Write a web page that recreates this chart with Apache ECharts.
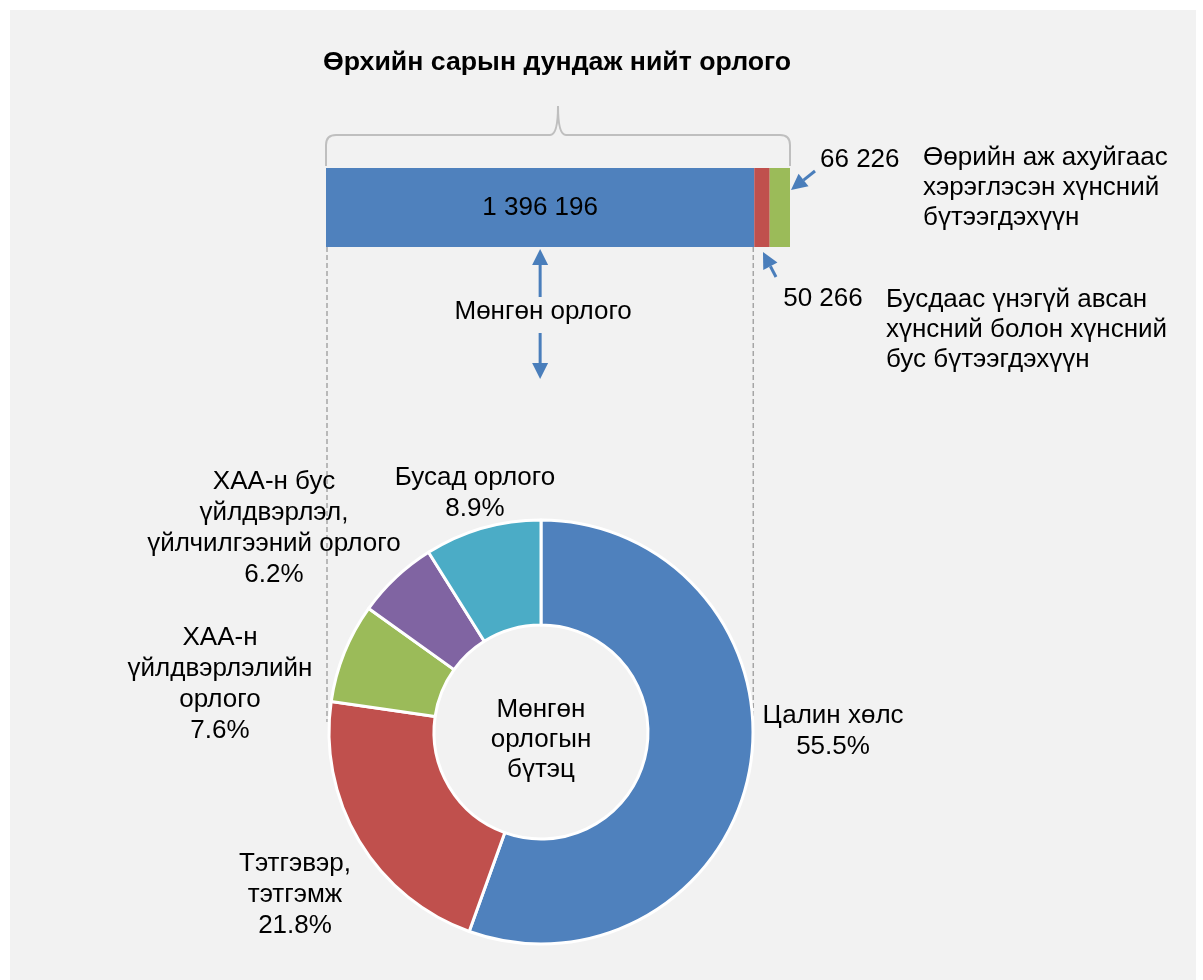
<!DOCTYPE html>
<html>
<head>
<meta charset="utf-8">
<script src="https://cdn.jsdelivr.net/npm/echarts@6/dist/echarts.min.js"></script>
<style>
  html, body { margin: 0; padding: 0; background: #fff; }
  #main { width: 1203px; height: 980px; }
</style>
</head>
<body>
<div id="main"></div>
<script>
  // нийт орлого (төгрөг)
  const barNames = ['Мөнгөн орлого', 'Бусдаас үнэгүй авсан', 'Өөрийн аж ахуйгаас'];
  const barValues = [1396196, 50266, 66226];
  const barColors = ['#4f81bd', '#c0504d', '#9bbb59'];

  // мөнгөн орлогын бүтэц (%)
  const pieNames = ['Цалин хөлс', 'Тэтгэвэр,\nтэтгэмж', 'ХАА-н\nүйлдвэрлэлийн\nорлого', 'ХАА-н бус\nүйлдвэрлэл,\nүйлчилгээний орлого', 'Бусад орлого'];
  const pieValues = [55.5, 21.8, 7.6, 6.2, 8.9];
  const pieColors = ['#4f81bd', '#c0504d', '#9bbb59', '#8064a2', '#4bacc6'];
  const pieLabelPos = [[833, 731], [295, 895], [220, 684], [274, 528], [475, 493]];

  const greenDesc = 'Өөрийн аж ахуйгаас\nхэрэглэсэн хүнсний\nбүтээгдэхүүн';
  const redDesc = 'Бусдаас үнэгүй авсан\nхүнсний болон хүнсний\nбус бүтээгдэхүүн';

  const FONT = 'Liberation Sans, Arial, sans-serif';
  const ARROW = '#4a7ebb';

  function fmt(n) {
    return String(n).replace(/\B(?=(\d{3})+(?!\d))/g, ' ');
  }

  const total = barValues.reduce((a, b) => a + b, 0);

  const barLabels = [
    { show: true, position: 'inside', color: '#000', fontSize: 26, fontFamily: FONT },
    { show: true, position: 'bottom', offset: [61, 34], align: 'center', verticalAlign: 'top', color: '#000', fontSize: 26, fontFamily: FONT },
    { show: true, position: 'right', offset: [25, -48], color: '#000', fontSize: 26, fontFamily: FONT }
  ];

  const barSeries = barValues.map((v, i) => ({
    name: barNames[i],
    type: 'bar',
    stack: 'total',
    barWidth: '100%',
    itemStyle: { color: barColors[i] },
    label: Object.assign({ formatter: p => fmt(p.value) }, barLabels[i]),
    data: [v]
  }));

  const chart = echarts.init(document.getElementById('main'));
  chart.setOption({
    backgroundColor: '#fff',
    animation: false,
    title: {
      text: 'Өрхийн сарын дундаж нийт орлого',
      left: 552,
      textAlign: 'center',
      top: 44,
      textStyle: { fontSize: 26.7, fontWeight: 'bold', color: '#000', fontFamily: FONT }
    },
    grid: { left: 326, top: 168, width: 464, height: 79 },
    xAxis: { type: 'value', min: 0, max: total, show: false },
    yAxis: { type: 'category', data: ['нийт'], show: false },
    series: barSeries.concat([{
      type: 'pie',
      center: [541, 732],
      radius: [107, 212],
      startAngle: 90,
      clockwise: true,
      itemStyle: { borderColor: '#fff', borderWidth: 3 },
      label: {
        show: true,
        position: 'outside',
        color: '#000',
        fontSize: 26,
        lineHeight: 31,
        fontFamily: FONT,
        align: 'center',
        formatter: p => p.name + '\n' + p.value.toFixed(1) + '%'
      },
      labelLine: { show: false },
      labelLayout: function (params) {
        const p = pieLabelPos[params.dataIndex];
        return { x: p[0], y: p[1], align: 'center', verticalAlign: 'middle' };
      },
      data: pieValues.map((v, i) => ({ name: pieNames[i], value: v, itemStyle: { color: pieColors[i] } }))
    }])
  });

  function arrow(x1, y1, x2, y2) {
    const ang = Math.atan2(y2 - y1, x2 - x1);
    const hl = 16, hw = 8;
    const bx = x2 - hl * Math.cos(ang), by = y2 - hl * Math.sin(ang);
    const px = -Math.sin(ang) * hw, py = Math.cos(ang) * hw;
    return [
      { type: 'line', shape: { x1: x1, y1: y1, x2: bx, y2: by }, style: { stroke: ARROW, lineWidth: 3 } },
      { type: 'polygon', shape: { points: [[x2, y2], [bx + px, by + py], [bx - px, by - py]] }, style: { fill: ARROW } }
    ];
  }

  // positions of stack edges from the axis
  const x0 = chart.convertToPixel({ xAxisIndex: 0 }, 0);
  const x1 = chart.convertToPixel({ xAxisIndex: 0 }, barValues[0]);
  const x2 = chart.convertToPixel({ xAxisIndex: 0 }, barValues[0] + barValues[1]);
  const x3 = chart.convertToPixel({ xAxisIndex: 0 }, total);
  const barBottom = 247;
  const mid = (x0 + x3) / 2;
  const blueMid = (x0 + x1) / 2;

  // бракет
  const braceStyle = { stroke: '#bfbfbf', lineWidth: 2, fill: null };
  const brace = [
    { type: 'line', shape: { x1: x0, y1: 166, x2: x0, y2: 145 }, style: braceStyle },
    { type: 'bezierCurve', shape: { x1: x0, y1: 145, cpx1: x0, cpy1: 135, x2: x0 + 10, y2: 135 }, style: braceStyle },
    { type: 'line', shape: { x1: x0 + 10, y1: 135, x2: mid - 8, y2: 135 }, style: braceStyle },
    { type: 'bezierCurve', shape: { x1: mid - 8, y1: 135, cpx1: mid, cpy1: 135, x2: mid, y2: 106 }, style: braceStyle },
    { type: 'bezierCurve', shape: { x1: mid, y1: 106, cpx1: mid, cpy1: 135, x2: mid + 8, y2: 135 }, style: braceStyle },
    { type: 'line', shape: { x1: mid + 8, y1: 135, x2: x3 - 10, y2: 135 }, style: braceStyle },
    { type: 'bezierCurve', shape: { x1: x3 - 10, y1: 135, cpx1: x3, cpy1: 135, x2: x3, y2: 145 }, style: braceStyle },
    { type: 'line', shape: { x1: x3, y1: 145, x2: x3, y2: 166 }, style: braceStyle }
  ];

  const elements = [
    { type: 'rect', z: -10, silent: true, shape: { x: 10, y: 10, width: 1186, height: 975 }, style: { fill: '#f2f2f2' } },
    { type: 'line', shape: { x1: x0 + 1, y1: barBottom, x2: x0 + 1, y2: 722 }, style: { stroke: '#a6a6a6', lineWidth: 1.5, lineDash: [5, 3] } },
    { type: 'line', shape: { x1: x1 - 1, y1: barBottom, x2: x1 - 1, y2: 716 }, style: { stroke: '#a6a6a6', lineWidth: 1.5, lineDash: [5, 3] } },
    { type: 'text', style: { text: 'Мөнгөн орлого', x: blueMid + 3, y: 312, align: 'center', verticalAlign: 'middle', fill: '#000', fontSize: 26, fontFamily: FONT } },
    { type: 'text', style: { text: greenDesc, x: 923, y: 143, align: 'left', verticalAlign: 'top', lineHeight: 30, fill: '#000', fontSize: 26, fontFamily: FONT } },
    { type: 'text', style: { text: redDesc, x: 886, y: 285, align: 'left', verticalAlign: 'top', lineHeight: 30, fill: '#000', fontSize: 26, fontFamily: FONT } },
    { type: 'text', style: { text: 'Мөнгөн\nорлогын\nбүтэц', x: 541, y: 740, align: 'center', verticalAlign: 'middle', lineHeight: 30, fill: '#000', fontSize: 26, fontFamily: FONT } }
  ]
    .concat(brace)
    .concat(arrow(blueMid, 297, blueMid, barBottom + 2))
    .concat(arrow(blueMid, 333, blueMid, 379))
    .concat(arrow(815, 171, x3 + 1, 190))
    .concat(arrow(776, 277, (x1 + x2) / 2 + 1, barBottom + 5));

  chart.setOption({ graphic: { elements: elements } });
</script>
</body>
</html>
